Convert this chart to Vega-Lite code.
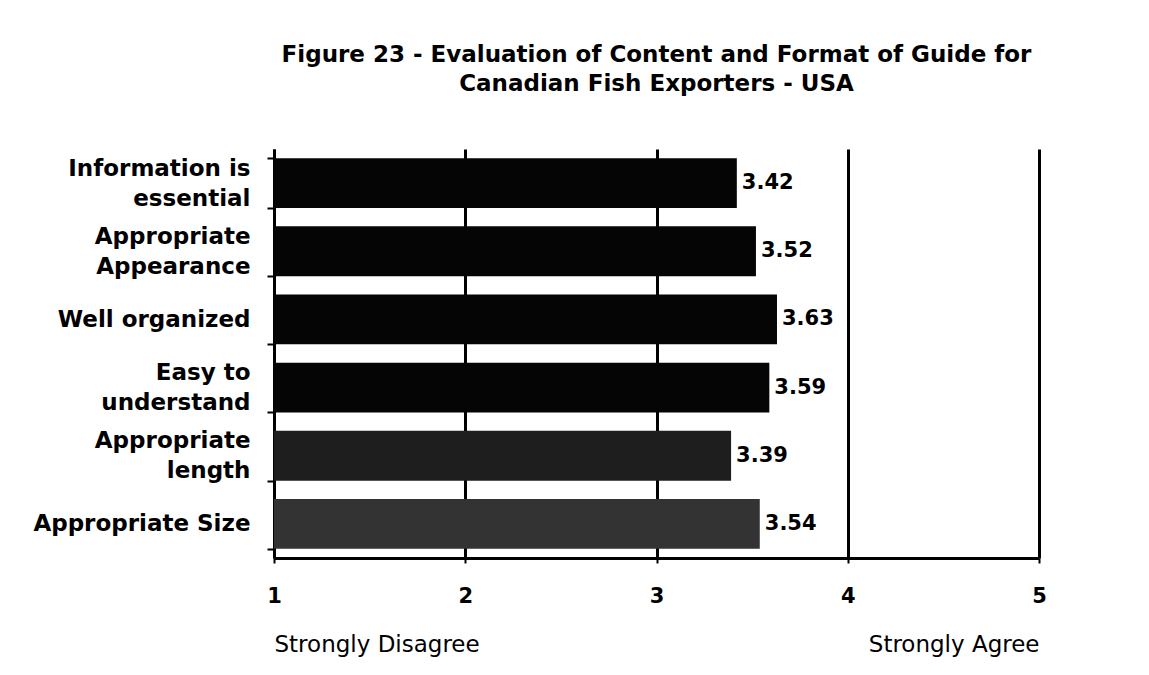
{
  "$schema": "https://vega.github.io/schema/vega-lite/v6.json",
  "width": 765,
  "height": 409,
  "autosize": {"type": "none"},
  "padding": {"left": 274, "top": 149, "right": 110, "bottom": 117},
  "background": "white",
  "title": {
    "text": ["Figure 23 - Evaluation of Content and Format of Guide for", "Canadian Fish Exporters - USA"],
    "font": "DejaVu Sans",
    "fontSize": 23,
    "fontWeight": "bold",
    "lineHeight": 29,
    "offset": 42,
    "anchor": "middle",
    "color": "black"
  },
  "config": {"view": {"stroke": null}},
  "data": {
    "values": [
      {"item": "Information is essential", "score": 3.42},
      {"item": "Appropriate Appearance", "score": 3.52},
      {"item": "Well organized", "score": 3.63},
      {"item": "Easy to understand", "score": 3.59},
      {"item": "Appropriate length", "score": 3.39},
      {"item": "Appropriate Size", "score": 3.54}
    ]
  },
  "layer": [
    {
      "mark": {"type": "bar"},
      "encoding": {
        "y": {
          "field": "item",
          "type": "nominal",
          "sort": null,
          "scale": {"paddingInner": 0.27, "paddingOuter": 0.135},
          "axis": {
            "title": null,
            "grid": false,
            "domainColor": "black",
            "domainWidth": 3,
            "tickBand": "extent",
            "tickColor": "black",
            "tickWidth": 2,
            "tickSize": 7,
            "labelFont": "DejaVu Sans",
            "labelFontSize": 23,
            "labelFontWeight": "bold",
            "labelColor": "black",
            "labelPadding": 17,
            "labelLimit": 400,
            "labelLineHeight": 30,
            "labelBaseline": "middle",
            "labelAlign": "right",
            "labelOffset": {"condition": {"test": "datum.value == 'Well organized' || datum.value == 'Appropriate Size'", "value": 0}, "value": -15},
            "labelExpr": "datum.label == 'Information is essential' ? ['Information is','essential'] : datum.label == 'Appropriate Appearance' ? ['Appropriate','Appearance'] : datum.label == 'Easy to understand' ? ['Easy to','understand'] : datum.label == 'Appropriate length' ? ['Appropriate','length'] : datum.label"
          }
        },
        "x": {
          "field": "score",
          "type": "quantitative",
          "scale": {"domain": [1, 5], "nice": false, "zero": false},
          "axis": {
            "title": null,
            "values": [1, 2, 3, 4, 5],
            "grid": true,
            "gridColor": "black",
            "gridWidth": 3,
            "gridOpacity": 1,
            "domainColor": "black",
            "domainWidth": 3,
            "tickColor": "black",
            "tickWidth": 2,
            "tickSize": 5,
            "labelFont": "DejaVu Sans",
            "labelFontSize": 21,
            "labelFontWeight": "bold",
            "labelColor": "black",
            "labelPadding": 22,
            "labelFlush": false,
            "labelBaseline": "top"
          }
        },
        "x2": {"datum": 1},
        "color": {
          "condition": [
            {"test": "datum.item === 'Appropriate Size'", "value": "#333333"},
            {"test": "datum.item === 'Appropriate length'", "value": "#1e1e1e"}
          ],
          "value": "#050505"
        }
      }
    },
    {
      "mark": {
        "type": "text",
        "align": "left",
        "baseline": "middle",
        "dx": 5,
        "font": "DejaVu Sans",
        "fontSize": 21,
        "fontWeight": "bold",
        "color": "black"
      },
      "encoding": {
        "y": {"field": "item", "type": "nominal", "sort": null},
        "x": {"field": "score", "type": "quantitative", "axis": null},
        "text": {"field": "score", "type": "quantitative", "format": ".2f"}
      }
    },
    {
      "data": {"values": [{"v": 1}, {"v": 5}]},
      "mark": {"type": "rule", "opacity": 0},
      "encoding": {
        "x": {
          "field": "v",
          "type": "quantitative",
          "axis": {
            "orient": "bottom",
            "title": null,
            "values": [1, 5],
            "domain": false,
            "ticks": false,
            "grid": false,
            "labelFont": "DejaVu Sans",
            "labelFontSize": 23,
            "labelColor": "black",
            "labelPadding": 75,
            "labelLimit": 400,
            "labelFlush": false,
            "labelBaseline": "top",
            "labelExpr": "datum.value == 1 ? 'Strongly Disagree' : 'Strongly Agree'",
            "labelAlign": {"condition": {"test": "datum.value == 1", "value": "left"}, "value": "right"}
          }
        }
      }
    }
  ],
  "resolve": {"axis": {"x": "independent"}}
}
